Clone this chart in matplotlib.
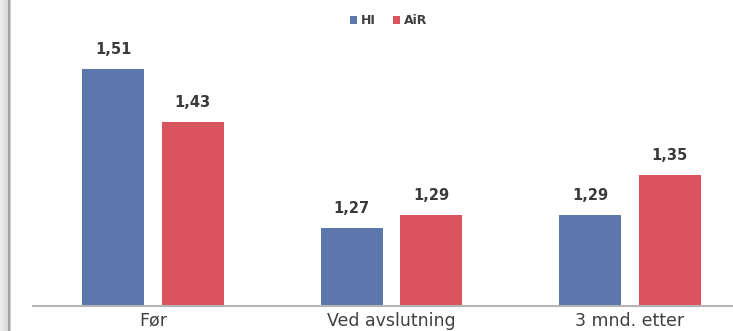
import matplotlib
matplotlib.use("Agg")
import matplotlib.pyplot as plt
import numpy as np

# Data
categories = ["Før", "Ved avslutning", "3 mnd. etter"]
series_names = ["HI", "AiR"]
hi_values = [1.51, 1.27, 1.29]
air_values = [1.43, 1.29, 1.35]
colors = ["#5b77ab", "#d9545d"]

W, H, DPI = 733, 331, 100
fig = plt.figure(figsize=(W / DPI, H / DPI), dpi=DPI)
fig.patch.set_facecolor("white")

# grey frame strip on the left edge
strip = fig.add_axes([0, 0, 11 / W, 1])
grad = np.linspace(0.93, 0.82, 11)[None, :]
grad[0, 8:10] = 0.64
strip.imshow(np.repeat(grad, 10, axis=0)[..., None].repeat(3, axis=2),
             aspect="auto", interpolation="bilinear", extent=[0, 1, 0, 1])
strip.axis("off")

ax = fig.add_axes([33 / W, 25 / H, 700 / W, 306 / H])
x = np.arange(len(categories))
width = 0.26
offset = 0.167

b1 = ax.bar(x - offset, hi_values, width, color=colors[0], label=series_names[0])
b2 = ax.bar(x + offset, air_values, width, color=colors[1], label=series_names[1])

ax.set_ylim(1.153, 1.153 + 306 / 662.5)
ax.set_xlim(-0.503, 2.432)

for bars, vals in ((b1, hi_values), (b2, air_values)):
    for rect, v in zip(bars, vals):
        ax.annotate(f"{v:.2f}".replace(".", ","),
                    (rect.get_x() + rect.get_width() / 2, v),
                    xytext=(0, 10.8), textcoords="offset points",
                    ha="center", va="baseline", fontsize=10.5,
                    fontweight="bold", color="#3a3a3a", family="DejaVu Sans")

for s in ("top", "right", "left"):
    ax.spines[s].set_visible(False)
ax.spines["bottom"].set_color("#b4b4b4")
ax.spines["bottom"].set_linewidth(1.5)
ax.set_yticks([])
ax.set_xticks(x)
ax.set_xticklabels(categories, family="DejaVu Sans", fontsize=12.5,
                   color="#404040")
ax.tick_params(axis="x", length=0, pad=4)
ax.set_facecolor("none")

leg = ax.legend(loc="upper center", bbox_to_anchor=(0.508, 0.99), ncol=2,
                frameon=False, handlelength=0.58, handleheight=0.58,
                handletextpad=0.3, columnspacing=1.4,
                prop={"size": 9, "weight": "bold", "family": "DejaVu Sans"})
for t in leg.get_texts():
    t.set_color("#404040")

fig.savefig("out.png", dpi=DPI)
